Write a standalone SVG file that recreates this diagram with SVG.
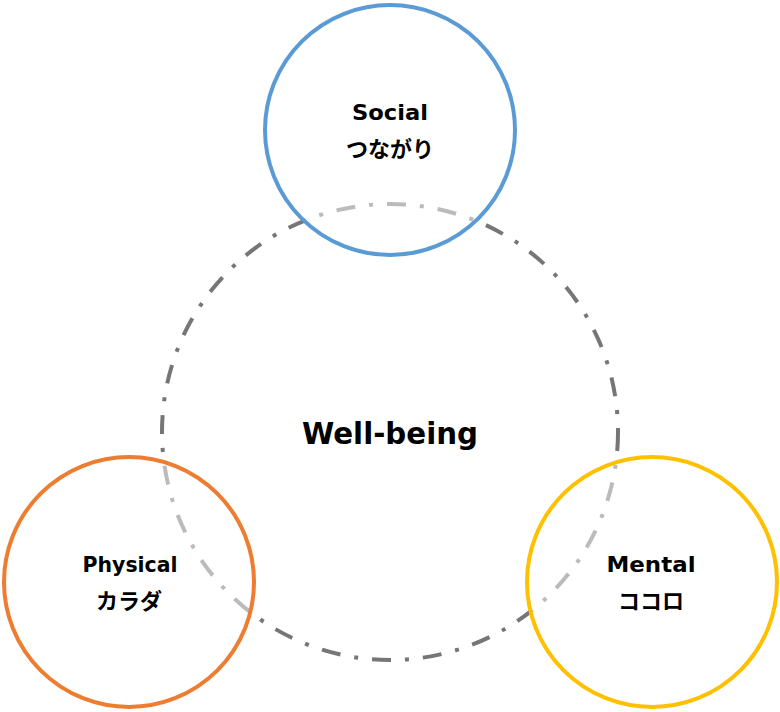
<svg xmlns="http://www.w3.org/2000/svg" width="780" height="712" viewBox="0 0 780 712">
<style>
.ring{fill:none;stroke:#767676;stroke-width:4;stroke-dasharray:19 14 4 14}
.node{fill:#fff;fill-opacity:0.5;stroke-width:4}
text{font-family:"Noto Sans CJK JP","Noto Sans",sans-serif;font-weight:bold;fill:#000;text-anchor:middle}
.lat{font-family:"DejaVu Sans","Noto Sans",sans-serif}
.t{font-size:22px}
.big{font-size:31px}
</style>
<rect width="780" height="712" fill="#fff"/>
<g id="wellbeing">
<circle class="ring" cx="390" cy="432" r="228"/>
<text class="big lat" x="390" y="444" textLength="176" lengthAdjust="spacingAndGlyphs">Well-being</text>
</g>
<g id="social">
<circle class="node" cx="390" cy="130" r="125" stroke="#5B9BD5"/>
<text class="t lat" x="390" y="120" textLength="76" lengthAdjust="spacingAndGlyphs">Social</text>
<text class="t" x="390" y="157">つながり</text>
</g>
<g id="physical">
<circle class="node" cx="129" cy="582" r="125" stroke="#ED7D31"/>
<text class="t lat" x="130" y="572" textLength="95" lengthAdjust="spacingAndGlyphs">Physical</text>
<text class="t" x="129" y="609">カラダ</text>
</g>
<g id="mental">
<circle class="node" cx="652" cy="582" r="125" stroke="#FFC000"/>
<text class="t lat" x="651" y="572" textLength="89" lengthAdjust="spacingAndGlyphs">Mental</text>
<text class="t" x="651" y="609">ココロ</text>
</g>
</svg>
